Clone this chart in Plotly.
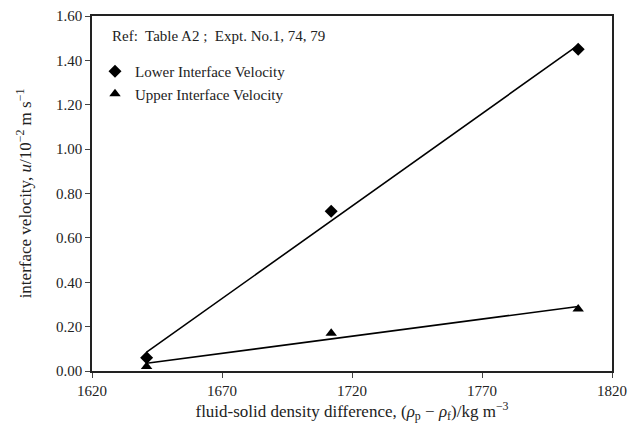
import numpy as np
import plotly.graph_objects as go

density_diff = [1641, 1712, 1807]
lower_velocity = [0.06, 0.72, 1.45]
upper_velocity = [0.02, 0.17, 0.28]
x_ticks = [1620, 1670, 1720, 1770, 1820]
y_ticks = [0.0, 0.2, 0.4, 0.6, 0.8, 1.0, 1.2, 1.4, 1.6]

FONT = "Liberation Serif, Times New Roman, serif"

def fit_line(x, y):
    m, c = np.polyfit(x, y, 1)
    xs = [min(x), max(x)]
    return xs, [m * v + c for v in xs]

fig = go.Figure()

lx, ly = fit_line(density_diff, lower_velocity)
ux, uy = fit_line(density_diff, upper_velocity)

fig.add_trace(go.Scatter(x=lx, y=ly, mode="lines", line=dict(color="black", width=1.6),
                         showlegend=False, hoverinfo="skip"))
fig.add_trace(go.Scatter(x=ux, y=uy, mode="lines", line=dict(color="black", width=1.6),
                         showlegend=False, hoverinfo="skip"))
fig.add_trace(go.Scatter(x=density_diff, y=lower_velocity, mode="markers",
                         name="Lower Interface Velocity",
                         marker=dict(symbol="diamond", size=10, color="black")))
fig.add_trace(go.Scatter(x=density_diff, y=upper_velocity, mode="markers",
                         name="Upper Interface Velocity",
                         marker=dict(symbol="triangle-up", size=10, color="black")))

axis_common = dict(
    showline=True, linecolor="#222", linewidth=1.5, mirror=True,
    ticks="outside", ticklen=5, tickcolor="#444", tickwidth=1,
    showgrid=False, zeroline=False, automargin=False,
    ticklabeloverflow="allow",
    tickfont=dict(family=FONT, size=15, color="#222"),
)

fig.update_xaxes(range=[1620, 1820], tickvals=x_ticks,
                 ticktext=[str(v) for v in x_ticks],
                 title=dict(text="fluid-solid density difference, (<i>ρ</i><sub>p</sub> − <i>ρ</i><sub>f</sub>)/kg m<sup>−3</sup>",
                            font=dict(family=FONT, size=17, color="#222"), standoff=0),
                 **axis_common)
fig.update_yaxes(range=[0, 1.6], tickvals=y_ticks,
                 ticktext=[f"{v:.2f}" for v in y_ticks],
                 title=dict(text="interface velocity, <i>u</i>/10<sup>−2</sup> m s<sup>−1</sup>",
                            font=dict(family=FONT, size=17, color="#222"), standoff=20),
                 **axis_common)

L, T, PW, PH = 84, 8, 520, 355

fig.add_annotation(text="Ref:  Table A2 ;  Expt. No.1, 74, 79", xref="paper", yref="paper",
                   x=(102 - 84) / PW, y=1 - (28 - T) / PH, xanchor="left", yanchor="middle",
                   showarrow=False, font=dict(family=FONT, size=15, color="#222"))

fig.update_layout(
    width=622, height=425,
    margin=dict(l=L, r=622 - L - PW, t=T, b=425 - T - PH),
    paper_bgcolor="white", plot_bgcolor="white",
    showlegend=True,
    legend=dict(x=(87 - 84) / PW, y=1 - (47 - T) / PH, xanchor="left", yanchor="top",
                bgcolor="rgba(0,0,0,0)", font=dict(family=FONT, size=15, color="#222"),
                tracegroupgap=0, itemwidth=30),
    font=dict(family=FONT),
)

fig.write_html("out.html")
